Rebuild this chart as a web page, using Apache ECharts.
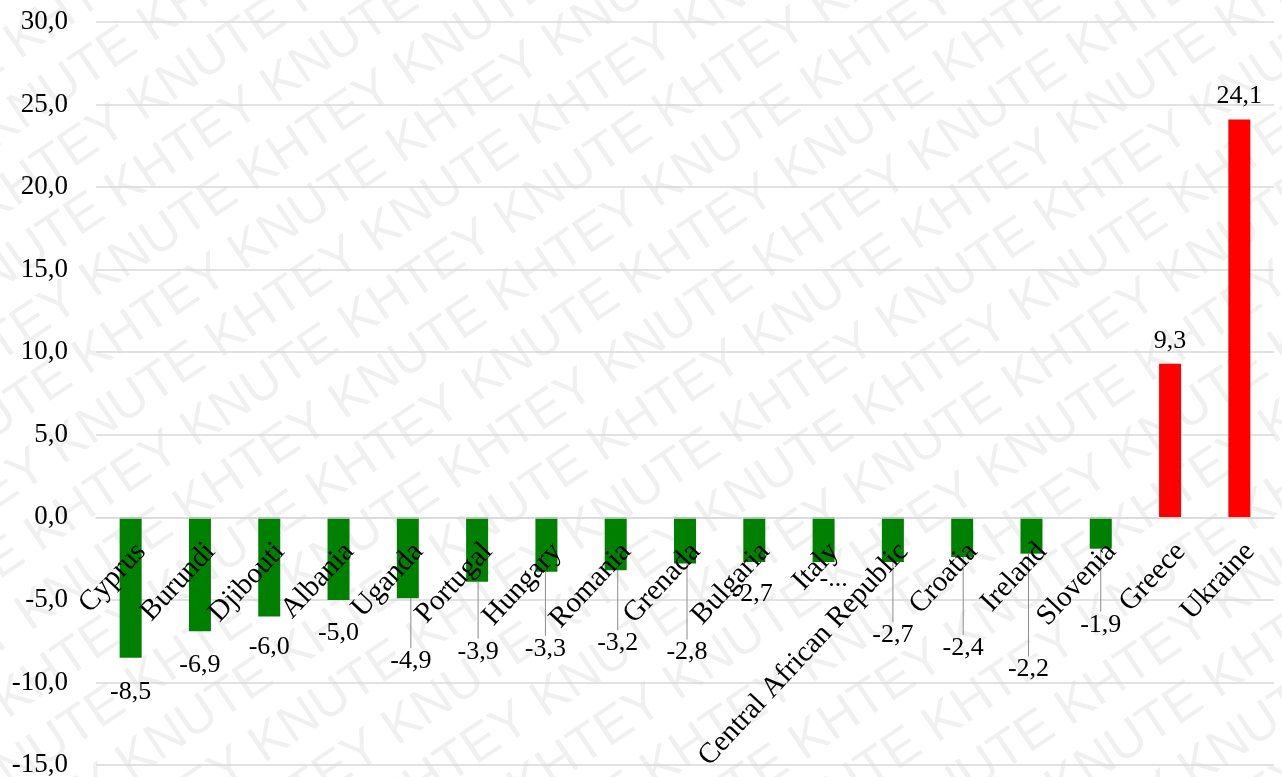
<!DOCTYPE html>
<html>
<head>
<meta charset="utf-8">
<script src="https://cdn.jsdelivr.net/npm/echarts@6/dist/echarts.min.js"></script>
<style>
html,body{margin:0;padding:0;background:#fff;}
#chart{width:1282px;height:777px;}
</style>
</head>
<body>
<div id="chart"></div>
<script>
// ---- data ----
const categories = ['Cyprus','Burundi','Djibouti','Albania','Uganda','Portugal','Hungary','Romania','Grenada','Bulgaria','Italy','Central African Republic','Croatia','Ireland','Slovenia','Greece','Ukraine'];
const values = [-8.5,-6.9,-6.0,-5.0,-4.9,-3.9,-3.3,-3.2,-2.8,-2.7,-2.7,-2.7,-2.4,-2.2,-1.9,9.3,24.1];
const yTicks = {min:-15, max:30, interval:5};
const truncatedLabels = {'Italy':'-...'};
// label placement (moved labels, as in the original)
const labelDx = [0,0,0,0,3,1,-1,2,2,-2,10,0,1,-3,0,0,0];
const labelDy = [16,16,13,15,45,52,59,55,71,14,-1,55,73,98,58,-5,-5];
const leaderShown = [false,false,false,false,true,true,true,true,true,false,false,true,true,true,true,false,false];

const fmt = v => v.toFixed(1).replace('.', ',');
const SERIF = '"Liberation Serif", "Times New Roman", serif';

const chart = echarts.init(document.getElementById('chart'));

// watermark
const wmRows = [];
const wmUnit = 'KNUTE KHTEY ';
for (let r = -16; r <= 16; r++) {
  wmRows.push({
    type: 'text',
    x: -1400 + ((r % 3 + 3) % 3) * 120,
    y: r * 60,
    z: -10,
    silent: true,
    style: {
      text: wmUnit.repeat(10),
      font: '52px "Liberation Sans", Arial, sans-serif',
      fill: 'rgba(0,0,0,0.06)'
    }
  });
}

chart.setOption({
  backgroundColor: '#ffffff',
  animation: false,
  graphic: [{
    type: 'group',
    x: 641, y: 388,
    rotation: 34 * Math.PI / 180,
    silent: true,
    z: -10,
    children: wmRows
  }],
  grid: {left: 96, right: 8, top: 22, bottom: 12, containLabel: false, outerBoundsMode: 'none'},
  xAxis: {
    type: 'category',
    data: categories,
    position: 'bottom',
    offset: 0,
    z: 5,
    axisLine: {show: true, onZero: false, lineStyle: {color: '#d9d9d9', width: 1.5}},
    axisTick: {show: false},
    axisLabel: {
      interval: 0, rotate: 47, margin: 20,
      verticalAlign: 'top',
      fontFamily: SERIF,
      fontSize: 29, color: '#000'
    }
  },
  yAxis: {
    type: 'value',
    min: yTicks.min, max: yTicks.max, interval: yTicks.interval,
    axisLine: {show: false},
    axisTick: {show: false},
    splitLine: {lineStyle: {color: '#d9d9d9', width: 1.5}},
    axisLabel: {
      formatter: v => fmt(v),
      margin: 28,
      fontFamily: SERIF,
      fontSize: 27, color: '#000'
    }
  },
  series: [{
    type: 'bar',
    barWidth: 22,
    z: 2,
    data: values.map((v, i) => ({
      value: v,
      itemStyle: {color: v < 0 ? '#008000' : '#ff0000'},
      labelLine: {show: leaderShown[i]}
    })),
    label: {
      show: true,
      position: 'outside',
      distance: 5,
      fontFamily: SERIF,
      fontSize: 26, color: '#000',
      formatter: p => truncatedLabels[p.name] || fmt(p.value)
    },
    labelLine: {lineStyle: {color: '#8c8c8c', width: 1}},
    labelLayout: p => ({dx: labelDx[p.dataIndex], dy: labelDy[p.dataIndex]})
  }]
});

// place the category axis on the zero line (using the value scale)
const yZero = chart.convertToPixel({yAxisIndex: 0}, 0);
const yBottom = chart.convertToPixel({yAxisIndex: 0}, yTicks.min);
chart.setOption({xAxis: {offset: yZero - yBottom}});
</script>
</body>
</html>
